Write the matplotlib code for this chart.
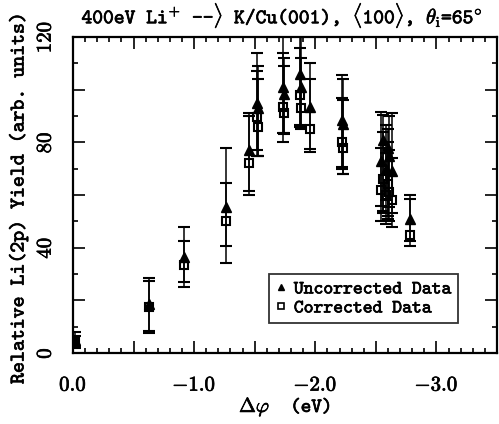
import matplotlib
matplotlib.use("Agg")
import matplotlib.pyplot as plt
import matplotlib.patheffects as pe
from matplotlib.lines import Line2D
from matplotlib.ticker import MultipleLocator
import numpy as np

plt.rcParams['font.family'] = ['cmtt10', 'DejaVu Sans']
plt.rcParams['mathtext.fontset'] = 'cm'
plt.rcParams['axes.unicode_minus'] = False

# ---- data ----
dphi = [-0.02, -0.63, -0.92, -1.265, -1.455, -1.52, -1.53, -1.73, -1.74,
        -1.87, -1.88, -1.955, -2.22, -2.23, -2.54, -2.56, -2.58, -2.60,
        -2.61, -2.63, -2.785]
uncorr = [5, 18.5, 36.5, 55.5, 77, 95, 93, 101, 98.5, 106, 101, 93.5,
          88.5, 87, 73, 81, 70, 78, 75, 69, 51]
uncorr_lo = [2.5, 8.5, 25, 34, 61.5, 75, 75, 83.5, 83.5, 86.5, 85, 77.5,
             70.5, 68, 56, 53, 58, 51, 55.5, 53, 40.5]
uncorr_hi = [8, 28.5, 48, 78, 91, 114, 109, 114, 112, 116, 122, 110,
             105.5, 104, 91.5, 90.5, 86.5, 85, 90, 91, 60]
corr = [4, 17.5, 33.5, 50, 72, 89.5, 86, 93.5, 91, 98, 93, 85,
        80, 78, 62, 66, 60, 64, 61, 58, 45]
corr_lo = [2, 7.5, 27, 40.5, 60, 77, 75, 80, 83, 86, 85.5, 76.5,
           70, 68, 50, 54, 49, 52, 50, 48, 42.5]
corr_hi = [6.5, 27.5, 42.5, 64.5, 90, 107, 104, 121, 109, 121, 112, 104,
           97, 96, 78, 84, 76, 80, 77, 74, 58.5]

xtick_vals = [0.0, -1.0, -2.0, -3.0]
xtick_labels = ['$0.0$', '$-1.0$', '$-2.0$', '$-3.0$']
ytick_vals = [0, 40, 80, 120]
ytick_labels = ['$0$', '$40$', '$80$', '$120$']

bold = [pe.withStroke(linewidth=0.5, foreground='black')]

# ---- figure ----
fig = plt.figure(figsize=(4.99, 4.24), dpi=100)
ax = fig.add_axes([73/499, 1-353/424, (497-73)/499, (353-37)/424])

u = np.array(uncorr); c = np.array(corr)
uerr = [u - np.array(uncorr_lo), np.array(uncorr_hi) - u]
cerr = [c - np.array(corr_lo), np.array(corr_hi) - c]

ax.errorbar(dphi, uncorr, yerr=uerr, fmt='^', color='black', ms=7,
            mfc='black', mec='black', ecolor='black', elinewidth=1.1,
            capsize=4.3, capthick=1.5, zorder=3)
ax.errorbar(dphi, corr, yerr=cerr, fmt='s', color='black', ms=6.3,
            mfc='none', mec='black', mew=1.5, ecolor='black',
            elinewidth=1.1, capsize=4.3, capthick=1.5, zorder=4)

ax.set_xlim(0.0, -3.5)
ax.set_ylim(0, 120)

ax.xaxis.set_major_locator(MultipleLocator(0.5))
ax.xaxis.set_minor_locator(MultipleLocator(0.1))
ax.yaxis.set_major_locator(MultipleLocator(20))
ax.yaxis.set_minor_locator(MultipleLocator(10))
ax.xaxis.set_major_formatter(plt.NullFormatter())
ax.yaxis.set_major_formatter(plt.NullFormatter())

ax.tick_params(which='both', direction='in', top=True, right=True,
               width=1.2, colors='black')
ax.tick_params(which='major', length=8.5)
ax.tick_params(which='minor', length=3.8)
for s in ax.spines.values():
    s.set_linewidth(1.6)

# labelled ticks drawn as text through axis transforms
for v, lab in zip(xtick_vals, xtick_labels):
    ax.text(v, -0.078, lab, transform=ax.get_xaxis_transform(),
            ha='center', va='top', fontsize=15, path_effects=bold)
for v, lab in zip(ytick_vals, ytick_labels):
    ax.text(-0.062, v, lab, transform=ax.get_yaxis_transform(),
            ha='center', va='center', rotation=90, fontsize=15,
            path_effects=bold)

fig.text(285/499, 1-407/424, r'$\Delta\varphi$  (eV)', fontsize=14.5,
         ha='center', va='center', path_effects=bold)
fig.text(19/499, 1-198/424, 'Relative Li(2p) Yield (arb. units)',
         fontsize=15, rotation=90, ha='center', va='center',
         path_effects=bold)
fig.text(282/499, 1-15.5/424,
         r'400eV Li$^{+}$ --$\rangle$ K/Cu(001), $\langle$100$\rangle$, '
         r'$\theta_{\rm i}$=65$^{\circ}$', fontsize=14.8,
         ha='center', va='center', path_effects=bold)

handles = [Line2D([], [], ls='none', marker='^', color='black', ms=5),
           Line2D([], [], ls='none', marker='s', mfc='none', mec='black',
                  mew=1.2, ms=4.5)]
leg = ax.legend(handles, ['Uncorrected Data', 'Corrected Data'],
                loc='lower right', bbox_to_anchor=(458/499, 1-323/424),
                bbox_transform=fig.transFigure, fontsize=13.5,
                frameon=True, fancybox=False, handlelength=0.6,
                handletextpad=0.4, borderpad=0.35, labelspacing=0.1,
                borderaxespad=0)
leg.get_frame().set_edgecolor('black')
leg.get_frame().set_linewidth(1.3)
for t in leg.get_texts():
    t.set_path_effects(bold)

fig.savefig('out.png', dpi=100)
